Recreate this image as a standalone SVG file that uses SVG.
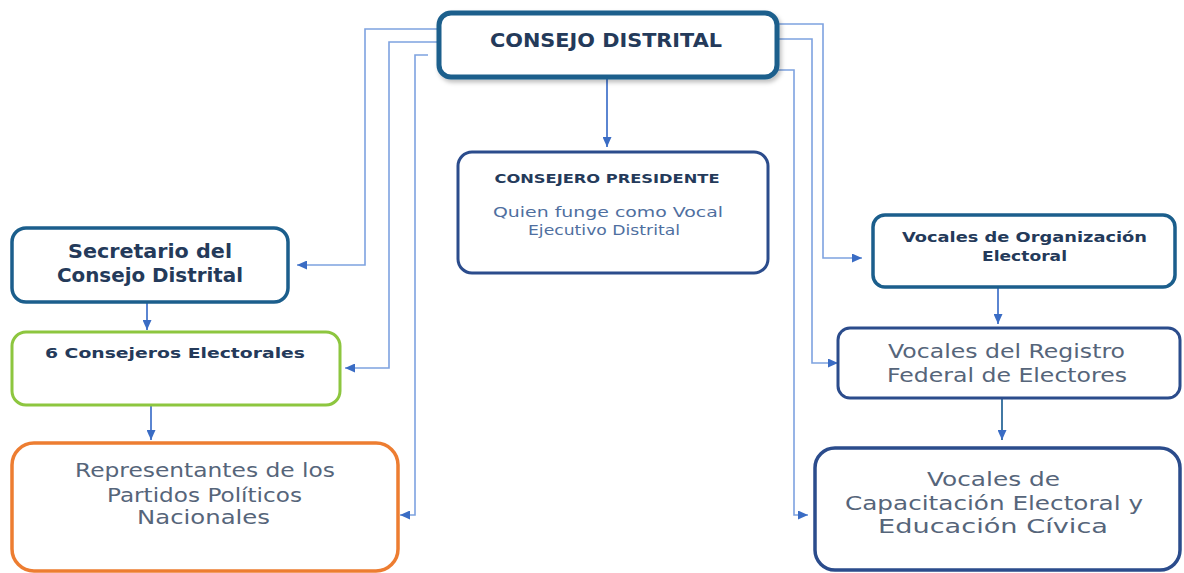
<svg xmlns="http://www.w3.org/2000/svg" width="1184" height="573" viewBox="0 0 1184 573">
<defs>
<marker id="ah" markerWidth="10" markerHeight="9" refX="10" refY="4.5" orient="auto" markerUnits="userSpaceOnUse">
<path d="M0,0 L10,4.5 L0,9 Z" fill="#3a6cc4"/>
</marker>
<filter id="sh" x="-10%" y="-10%" width="120%" height="130%">
<feDropShadow dx="2" dy="3" stdDeviation="2" flood-color="#000" flood-opacity="0.25"/>
</filter>
</defs>
<style>
.box{fill:#fff}
.t{font-family:"DejaVu Sans","Liberation Sans",Arial,sans-serif;text-anchor:middle}
.b{font-weight:bold;fill:#243a5a}
.n{fill:#56657a}
.c{fill:none;stroke:#7ea2e0;stroke-width:1.6}
.d{fill:none;stroke:#4a78cc;stroke-width:1.8}
</style>
<rect width="1184" height="573" fill="#fff"/>
<g id="connectors">
<path class="c" d="M439,29 H365 V265 H297" marker-end="url(#ah)"/>
<path class="c" d="M439,42 H389 V368 H345" marker-end="url(#ah)"/>
<path class="c" d="M428,55 H415 V515 H400" marker-end="url(#ah)"/>
<path class="c" d="M777,24 H823 V258 H862" marker-end="url(#ah)"/>
<path class="c" d="M777,39 H812 V363 H838" marker-end="url(#ah)"/>
<path class="c" d="M777,70 H794 V515 H808" marker-end="url(#ah)"/>
<path class="d" d="M607,78 V147" marker-end="url(#ah)"/>
<path class="d" d="M147,302 V330" marker-end="url(#ah)"/>
<path class="d" d="M151,405 V440" marker-end="url(#ah)"/>
<path class="d" d="M998,287 V324" marker-end="url(#ah)"/>
<path class="d" d="M1002,398 V440" marker-end="url(#ah)" style="stroke:#2d6a9a"/>
</g>
<g id="consejo-distrital">
<rect class="box" x="439" y="13" width="338" height="64" rx="12" stroke="#1b5e8c" stroke-width="5" filter="url(#sh)"/>
<text class="t b" x="606" y="47" font-size="20" textLength="232" lengthAdjust="spacingAndGlyphs">CONSEJO DISTRITAL</text>
</g>
<g id="consejero-presidente">
<rect class="box" x="458" y="152" width="310" height="121" rx="14" stroke="#2b4c8c" stroke-width="3"/>
<text class="t b" x="607" y="183" font-size="12.5" textLength="225" lengthAdjust="spacingAndGlyphs">CONSEJERO PRESIDENTE</text>
<text class="t" x="608" y="217" font-size="14.5" fill="#4f6fa0" textLength="230" lengthAdjust="spacingAndGlyphs">Quien funge como Vocal</text>
<text class="t" x="604" y="235" font-size="14.5" fill="#4f6fa0" textLength="152" lengthAdjust="spacingAndGlyphs">Ejecutivo Distrital</text>
</g>
<g id="secretario">
<rect class="box" x="12" y="228" width="276" height="74" rx="14" stroke="#1b5e8c" stroke-width="3.5"/>
<text class="t b" x="150" y="258" font-size="19" textLength="164" lengthAdjust="spacingAndGlyphs">Secretario del</text>
<text class="t b" x="150" y="282" font-size="19" textLength="186" lengthAdjust="spacingAndGlyphs">Consejo Distrital</text>
</g>
<g id="consejeros-electorales">
<rect class="box" x="12" y="332" width="328" height="73" rx="14" stroke="#8dc63f" stroke-width="3"/>
<text class="t b" x="175" y="358" font-size="14.5" textLength="260" lengthAdjust="spacingAndGlyphs">6 Consejeros Electorales</text>
</g>
<g id="representantes">
<rect class="box" x="12" y="443" width="386" height="128" rx="22" stroke="#ed7d31" stroke-width="3.5"/>
<text class="t n" x="205" y="477" font-size="19" textLength="260" lengthAdjust="spacingAndGlyphs">Representantes de los</text>
<text class="t n" x="204.5" y="502" font-size="19" textLength="195" lengthAdjust="spacingAndGlyphs">Partidos Políticos</text>
<text class="t n" x="203.5" y="524" font-size="19" textLength="133" lengthAdjust="spacingAndGlyphs">Nacionales</text>
</g>
<g id="vocales-organizacion">
<rect class="box" x="873" y="215" width="302" height="72" rx="12" stroke="#1b5e8c" stroke-width="3.5"/>
<text class="t b" x="1024.5" y="242" font-size="13.5" textLength="245" lengthAdjust="spacingAndGlyphs">Vocales de Organización</text>
<text class="t b" x="1024.5" y="261" font-size="13.5" textLength="85" lengthAdjust="spacingAndGlyphs">Electoral</text>
</g>
<g id="vocales-registro">
<rect class="box" x="838" y="328" width="342" height="70" rx="12" stroke="#2b4c8c" stroke-width="3"/>
<text class="t n" x="1006.5" y="358" font-size="19" textLength="237" lengthAdjust="spacingAndGlyphs">Vocales del Registro</text>
<text class="t n" x="1007" y="382" font-size="19" textLength="240" lengthAdjust="spacingAndGlyphs">Federal de Electores</text>
</g>
<g id="vocales-capacitacion">
<rect class="box" x="815" y="448" width="365" height="122" rx="20" stroke="#2b4c8c" stroke-width="3.5"/>
<text class="t n" x="993.5" y="486" font-size="19" textLength="133" lengthAdjust="spacingAndGlyphs">Vocales de</text>
<text class="t n" x="994" y="510" font-size="19" textLength="298" lengthAdjust="spacingAndGlyphs">Capacitación Electoral y</text>
<text class="t n" x="993" y="533" font-size="19" textLength="230" lengthAdjust="spacingAndGlyphs">Educación Cívica</text>
</g>
</svg>
